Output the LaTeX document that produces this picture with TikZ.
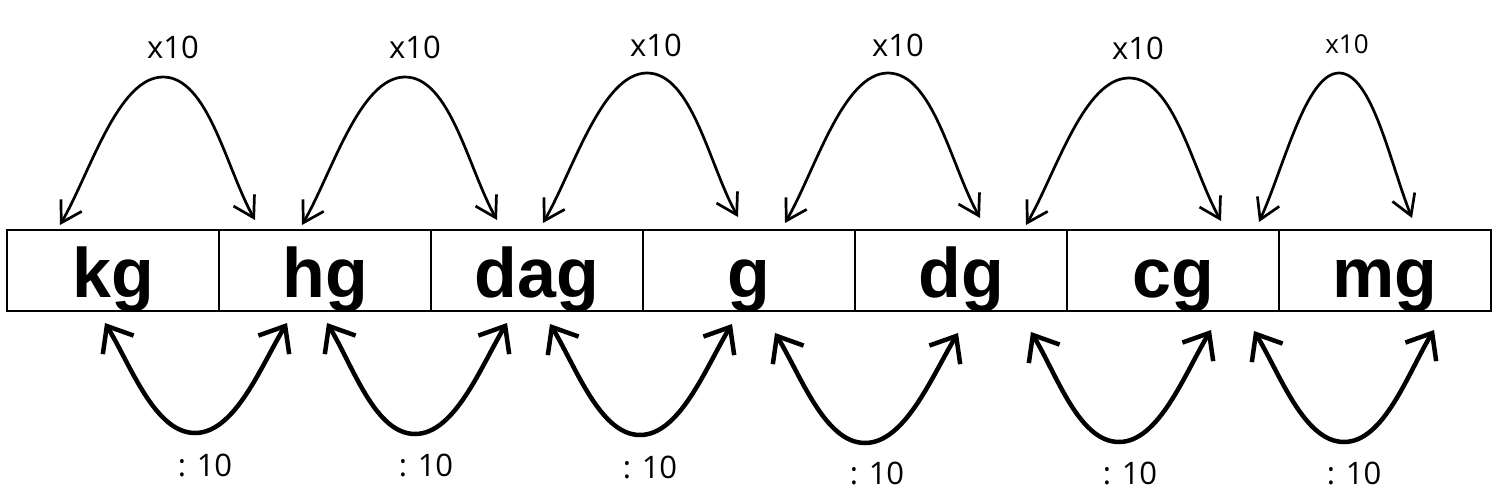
\documentclass[tikz,border=0pt]{standalone}
\usepackage{fontspec}
\setmainfont{Liberation Sans}
\newfontfamily\labfont{Open Sans}
\usetikzlibrary{arrows.meta,calc}
\newcommand\myarc[7]{\draw[#1] (#2) .. controls ($(#2)+(#5)$) and ($(#3)+(-#7,0)$) .. (#3) .. controls ($(#3)+(#7,0)$) and ($(#4)+(#6)$) .. (#4);}
\begin{document}
\begin{tikzpicture}[x=1pt,y=-1pt,
  cell/.style={draw, line width=2.4pt, minimum width=212pt, minimum height=81pt, inner sep=0pt,
    text height=53pt, text depth=0pt, font=\fontsize{70pt}{80pt}\selectfont\bfseries},
  lab/.style={inner sep=0pt, font=\labfont\fontsize{31pt}{36pt}\selectfont},
  uparc/.style={line width=2.7pt, line cap=round,
    {Straight Barb[length=20pt,width=24pt]}-{Straight Barb[length=20pt,width=24pt]}},
  downarc/.style={line width=4.5pt, line cap=round,
    {Straight Barb[length=22pt,width=36pt]}-{Straight Barb[length=22pt,width=36pt]}}]
\useasboundingbox (0,0) rectangle (1499,500);
\fill[white] (0,0) rectangle (1499,500);
% cells
\node[cell] (kg)  at (113,270.5) {kg};
\node[cell] (hg)  at (325,270.5) {hg};
\node[cell] (dag) at (537,270.5) {dag};
\node[cell] (g)   at (749,270.5) {g};
\node[cell] (dg)  at (961,270.5) {dg};
\node[cell] (cg)  at (1173,270.5) {cg};
\node[cell] (mg)  at (1385,270.5) {mg};
% top arc points
\coordinate (u1l) at (60,225);   \coordinate (u1p) at (163,77);  \coordinate (u1r) at (255,220);
\coordinate (u2l) at (302,225);  \coordinate (u2p) at (405,77);  \coordinate (u2r) at (497,220);
\coordinate (u3l) at (543,223);  \coordinate (u3p) at (647,73);  \coordinate (u3r) at (738,217);
\coordinate (u4l) at (785,223);  \coordinate (u4p) at (888,73);  \coordinate (u4r) at (980,218);
\coordinate (u5l) at (1026,225); \coordinate (u5p) at (1129,78); \coordinate (u5r) at (1221,221);
\coordinate (u6l) at (1259,222); \coordinate (u6p) at (1339,73); \coordinate (u6r) at (1412,218);
\myarc{uparc}{u1l}{u1p}{u1r}{30,-52}{-29,-52}{45}
\myarc{uparc}{u2l}{u2p}{u2r}{30,-52}{-29,-52}{45}
\myarc{uparc}{u3l}{u3p}{u3r}{30,-52}{-29,-52}{45}
\myarc{uparc}{u4l}{u4p}{u4r}{30,-52}{-29,-52}{45}
\myarc{uparc}{u5l}{u5p}{u5r}{30,-52}{-29,-52}{45}
\myarc{uparc}{u6l}{u6p}{u6r}{25,-55}{-22,-55}{33}
% bottom arc points
\coordinate (d1l) at (105,323);  \coordinate (d1p) at (195,433);  \coordinate (d1r) at (287,323);
\coordinate (d2l) at (327,323);  \coordinate (d2p) at (415,434);  \coordinate (d2r) at (507,323);
\coordinate (d3l) at (550,324);  \coordinate (d3p) at (640,435);  \coordinate (d3r) at (732,324);
\coordinate (d4l) at (775,333);  \coordinate (d4p) at (865,443);  \coordinate (d4r) at (958,333);
\coordinate (d5l) at (1031,332); \coordinate (d5p) at (1119,442); \coordinate (d5r) at (1211,330);
\coordinate (d6l) at (1254,331); \coordinate (d6p) at (1344,442); \coordinate (d6r) at (1434,330);
\myarc{downarc}{d1l}{d1p}{d1r}{26,43}{-26,43}{40}
\myarc{downarc}{d2l}{d2p}{d2r}{26,43}{-26,43}{40}
\myarc{downarc}{d3l}{d3p}{d3r}{26,43}{-26,43}{40}
\myarc{downarc}{d4l}{d4p}{d4r}{26,43}{-26,43}{40}
\myarc{downarc}{d5l}{d5p}{d5r}{26,43}{-26,43}{40}
\myarc{downarc}{d6l}{d6p}{d6r}{26,43}{-26,43}{40}
% labels
\node[lab] (t1) at (173,47.5) {x10};
\node[lab] (t2) at (415,47.5) {x10};
\node[lab] (t3) at (656,45) {x10};
\node[lab] (t4) at (898,45) {x10};
\node[lab] (t5) at (1138,48) {x10};
\node[lab, font=\labfont\fontsize{26pt}{30pt}\selectfont] (t6) at (1347,44) {x10};
\node[lab] (b1) at (205,465) {: 10};
\node[lab] (b2) at (426,465) {: 10};
\node[lab] (b3) at (650,467) {: 10};
\node[lab] (b4) at (877,473) {: 10};
\node[lab] (b5) at (1130,473) {: 10};
\node[lab] (b6) at (1354,473) {: 10};
\end{tikzpicture}
\end{document}
